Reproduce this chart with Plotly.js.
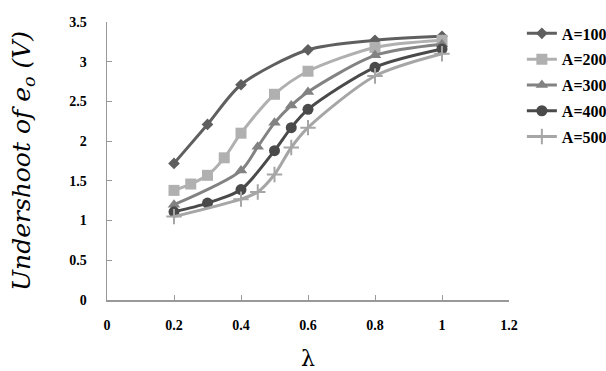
<!DOCTYPE html>
<html><head><meta charset="utf-8">
<script src="https://cdn.plot.ly/plotly-3.0.1.min.js"></script>
<style>html,body{margin:0;padding:0;background:#fff}#c{width:606px;height:371px}</style>
</head><body><div id="c"></div>
<script>
const names = ["A=100","A=200","A=300","A=400","A=500"];
const x100 = [0.2,0.3,0.4,0.6,0.8,1.0];
const y100 = [1.72,2.21,2.71,3.15,3.27,3.32];
const x200 = [0.2,0.25,0.3,0.35,0.4,0.5,0.6,0.8,1.0];
const y200 = [1.38,1.46,1.57,1.79,2.10,2.59,2.88,3.18,3.27];
const x300 = [0.2,0.4,0.45,0.5,0.55,0.6,0.8,1.0];
const y300 = [1.20,1.63,1.93,2.23,2.45,2.62,3.08,3.22];
const x400 = [0.2,0.3,0.4,0.5,0.55,0.6,0.8,1.0];
const y400 = [1.11,1.22,1.39,1.88,2.17,2.40,2.93,3.16];
const x500 = [0.2,0.4,0.45,0.5,0.55,0.6,0.8,1.0];
const y500 = [1.05,1.27,1.36,1.58,1.92,2.17,2.82,3.10];
const xs = [x100,x200,x300,x400,x500];
const ys = [y100,y200,y300,y400,y500];
const colors = ["#5f5f5f","#b0b0b0","#828282","#4a4a4a","#a6a6a6"];
const symbols = ["diamond","square","triangle-up","circle","cross-thin"];
const sizes = [9,11,11,11,11];
const traces = names.map((n,i)=>({
  x: xs[i], y: ys[i], name: n, type: "scatter", mode: "lines+markers",
  line: {color: colors[i], width: 3, shape: "spline", smoothing: 0.8},
  marker: {symbol: symbols[i], size: sizes[i], color: colors[i], line: {color: colors[i], width: i===4 ? 2 : 0}},
  legendgroup: "g"+i
}));
const tickFont = {family: "Liberation Serif, serif", size: 14, color: "#000", weight: "bold"};
const layout = {
  width: 606, height: 371,
  margin: {l: 107, r: 97, t: 22, b: 71, autoexpand: false},
  paper_bgcolor: "#fff", plot_bgcolor: "#fff",
  showlegend: true,
  legend: {x: 1.032, y: 1.02, xanchor: "left", yanchor: "top", tracegroupgap: 2,
    font: {family: "Liberation Serif, serif", size: 16, color: "#000", weight: "bold"}, itemwidth: 30},
  xaxis: {range: [0, 1.2], tickvals: [0,0.2,0.4,0.6,0.8,1,1.2], ticktext: ["0","0.2","0.4","0.6","0.8","1","1.2"],
    showgrid: false, zeroline: false, showline: true, linecolor: "#999", linewidth: 1.5,
    ticks: "inside", ticklen: 5, tickcolor: "#999", tickfont: tickFont, ticklabelstandoff: 12,
    title: {text: "λ", font: {family: "DejaVu Serif", size: 22, color: "#000"}, standoff: 41}},
  yaxis: {range: [0, 3.5], tickvals: [0,0.5,1,1.5,2,2.5,3,3.5], ticktext: ["0","0.5","1","1.5","2","2.5","3","3.5"],
    showgrid: false, zeroline: false, showline: true, linecolor: "#999", linewidth: 1.5,
    ticks: "inside", ticklen: 5, tickcolor: "#999", tickfont: tickFont, ticklabelstandoff: 16,
    title: {text: "<i>Undershoot of e<sub>o</sub> (V)</i>", font: {family: "DejaVu Serif", size: 25, color: "#000"}, standoff: 31}}
};
Plotly.newPlot("c", traces, layout, {displayModeBar: false, staticPlot: true});
</script></body></html>
